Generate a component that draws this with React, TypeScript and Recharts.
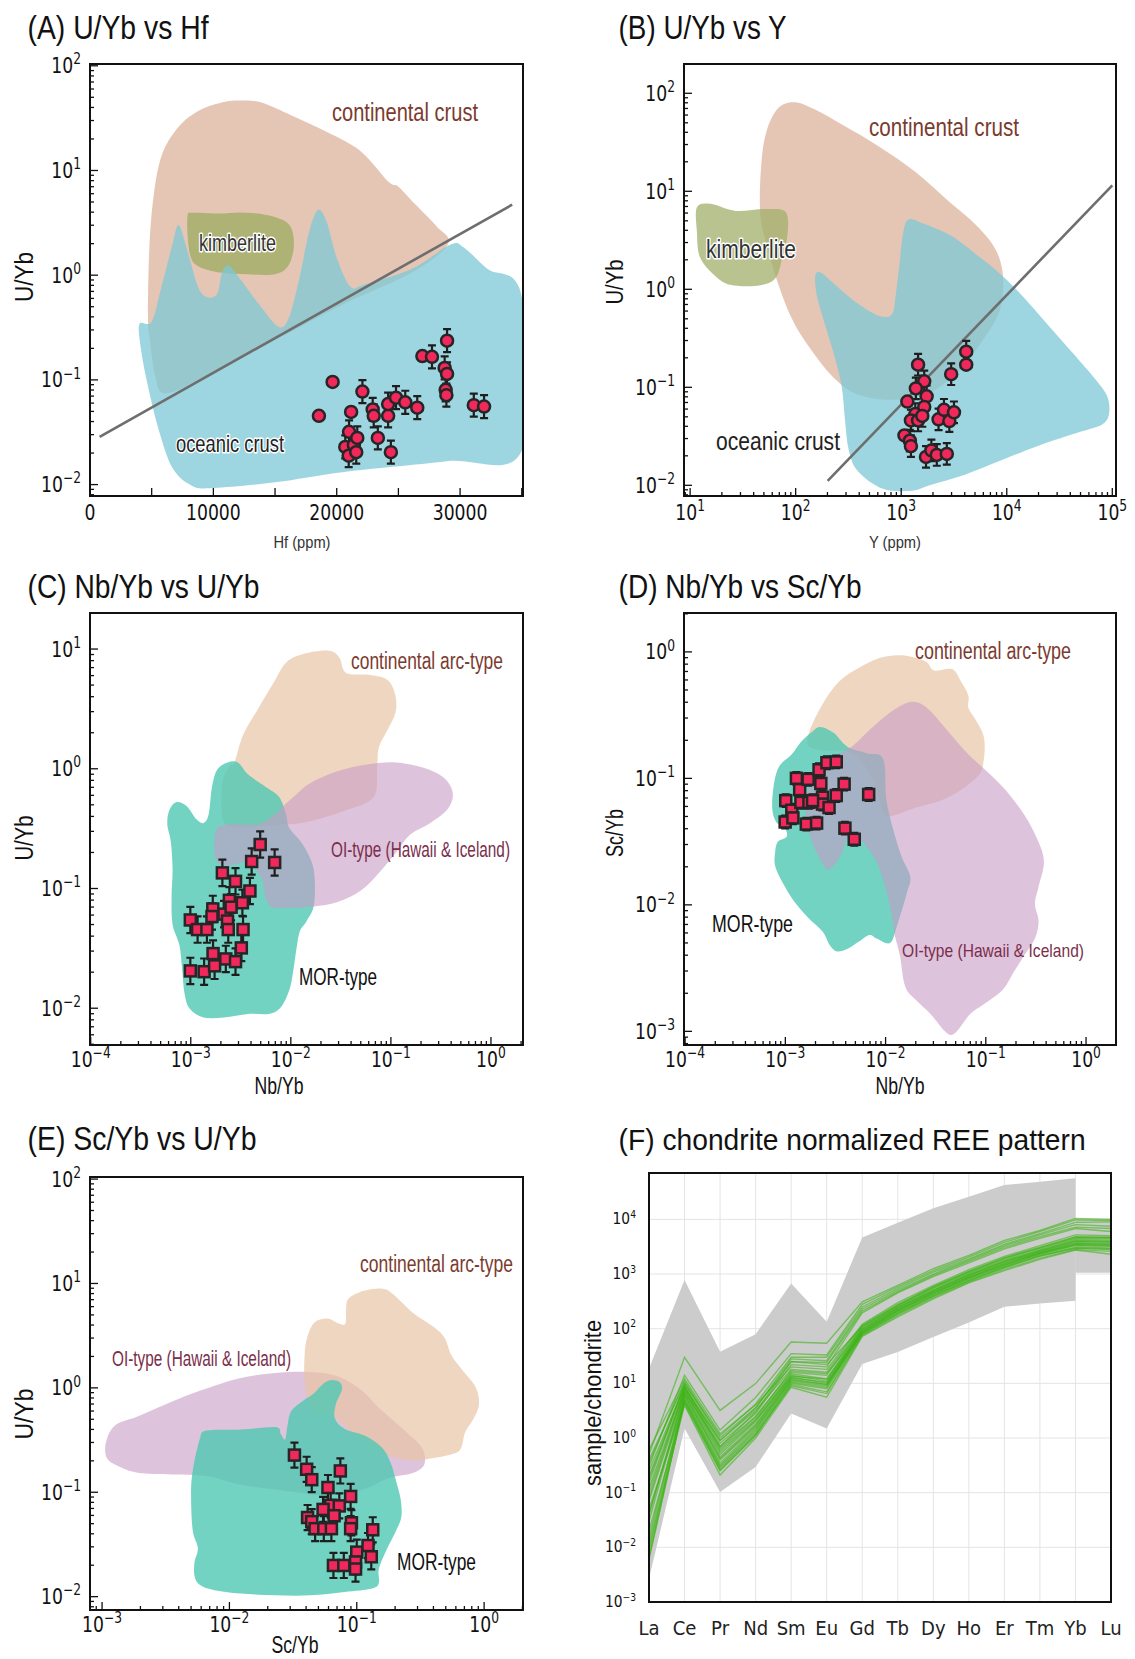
import React from 'react';
import { ScatterChart, Scatter, XAxis, YAxis, ComposedChart, Area, Line, CartesianGrid } from 'recharts';

type Pt = [number, number];
type Sample = [number, number, number]; // x, y, error half-width in decades

// ---------- (A) U/Yb vs Hf ----------
const hfSamples: Sample[] = [
  [18556, 0.0454, 0], [19667, 0.0955, 0], [21167, 0.0494, 0], [21000, 0.0319, 0.11],
  [20694, 0.0229, 0.11], [20972, 0.0189, 0.11], [21389, 0.0239, 0.11], [21667, 0.0279, 0.11],
  [21583, 0.0204, 0.11], [22083, 0.0773, 0.11], [22917, 0.0522, 0.11], [23000, 0.0454, 0.11],
  [23333, 0.0279, 0.11], [24167, 0.0454, 0.11], [24167, 0.0587, 0.11], [24806, 0.0676, 0.11],
  [24389, 0.0204, 0.11], [25556, 0.0611, 0.11], [26528, 0.0543, 0.11], [26944, 0.169, 0],
  [27722, 0.166, 0.11], [28750, 0.13, 0.11], [28944, 0.237, 0.11], [28944, 0.114, 0.11],
  [28833, 0.0803, 0.11], [28889, 0.0714, 0.11], [31111, 0.0574, 0.11], [31944, 0.0556, 0.11],
];
const hfContinental: Pt[] = [
  [4700, 0.385], [4800, 1.7], [5140, 5.5], [5830, 14.1], [7220, 26.4], [8890, 37.6], [10830, 45],
  [12220, 46.7], [13890, 44.6], [16390, 33.4], [19170, 23.4], [21940, 15.3], [24170, 7.85],
  [25000, 7.0], [26390, 4.72], [28060, 2.95], [29030, 1.99], [26110, 1.06], [20560, 0.53],
  [15000, 0.24], [9440, 0.11], [6110, 0.074], [5280, 0.11], [4860, 0.24],
];
const hfKimberlite: Pt[] = [
  [7920, 3.73], [8330, 3.94], [10560, 3.88], [12220, 3.97], [14440, 3.73], [16110, 3.06],
  [16530, 1.99], [16110, 1.25], [15000, 1.02], [12780, 1.02], [10560, 1.06], [8890, 1.2],
  [8190, 1.46], [7920, 2.33],
];
const hfOceanic: Pt[] = [
  [4000, 0.34], [5000, 0.36], [5800, 0.78], [6700, 2.0], [7200, 3.0], [7900, 1.7], [8750, 0.78],
  [9450, 0.62], [10300, 0.66], [10700, 1.06], [11250, 1.24], [12200, 0.91], [13900, 0.49],
  [15300, 0.32], [16100, 0.385], [16950, 0.91], [17800, 2.7], [18500, 4.2], [19200, 3.2],
  [20000, 1.46], [21100, 0.78], [22200, 0.81], [26100, 1.15], [29200, 1.95], [30300, 1.84],
  [32200, 1.15], [35000, 0.62], [35000, 0.021], [28900, 0.0167], [20600, 0.0132], [15000, 0.0105],
  [10000, 0.0093], [8300, 0.0097], [6700, 0.0143], [5550, 0.034], [4700, 0.087], [4150, 0.19],
];
const hfTrend: Pt[] = [[778, 0.0286], [34222, 4.71]];
const hfTicks = [0, 5000, 10000, 15000, 20000, 25000, 30000, 35000];

// ---------- (B) U/Yb vs Y ----------
const ySamples: Sample[] = [
  [1445, 0.17, 0.11], [1652, 0.115, 0.11], [1377, 0.0975, 0.11], [1741, 0.081, 0.11],
  [1143, 0.0716, 0], [1652, 0.063, 0.11], [1360, 0.0534, 0.11], [1236, 0.0459, 0.11],
  [1445, 0.0459, 0.11], [1585, 0.051, 0.11], [1074, 0.0323, 0], [1208, 0.0285, 0.11],
  [1236, 0.0251, 0.11], [1718, 0.0195, 0.11], [1932, 0.0227, 0.11], [2173, 0.0204, 0.11],
  [2704, 0.0209, 0.11], [2259, 0.0471, 0.11], [2541, 0.059, 0.11], [2858, 0.0452, 0.11],
  [3162, 0.0556, 0.11], [2974, 0.136, 0.11], [4130, 0.231, 0.11], [4130, 0.17, 0],
];
const yContinental: Pt[] = [
  [46, 6.31], [47.5, 20.4], [53.8, 43.3], [69.2, 71.6], [98.4, 81.1], [151, 68.6], [283, 47.1],
  [620, 28.5], [1358, 15.8], [2748, 8.11], [5140, 4.51], [7907, 2.51], [9250, 1.29], [8550, 0.605],
  [6010, 0.31], [3475, 0.146], [1857, 0.0882], [849, 0.0746], [387, 0.0846], [224, 0.1285],
  [140, 0.241], [94.6, 0.471], [69.2, 1.087], [52.6, 2.97],
];
const yOceanic: Pt[] = [
  [154, 1.4], [177, 1.46], [242, 1.09], [387, 0.716], [620, 0.534], [816, 0.556], [883, 0.846],
  [955, 1.65], [1033, 3.51], [1161, 5.12], [1589, 4.71], [2972, 3.51], [5560, 2.12], [8890, 1.4],
  [14220, 0.846], [24600, 0.433], [42600, 0.221], [68100, 0.123], [89500, 0.081], [93100, 0.0534],
  [79600, 0.0415], [49800, 0.0351], [19450, 0.0251], [8890, 0.018], [4065, 0.0129], [1858, 0.01],
  [1256, 0.0088], [671, 0.0092], [387, 0.014], [318, 0.0231], [294, 0.0451], [272, 0.104],
  [224, 0.241], [177, 0.556], [157, 0.92],
];
const yKimberlite: Pt[] = [
  [11.6, 6.86], [15.6, 7.46], [27, 6.31], [50.6, 6.58], [79.6, 6.21], [84.1, 3.82], [74.8, 2.12],
  [64, 1.29], [43.2, 1.09], [24, 1.11], [16.9, 1.4], [12.4, 2.12], [11.6, 3.82],
];
const yTrend: Pt[] = [[201, 0.0111], [100000, 11.5]];

// ---------- (C) Nb/Yb vs U/Yb ----------
const nbuSamples: Sample[] = [
  [0.00099, 0.0546, 0.11], [0.00117, 0.0454, 0.11], [0.00145, 0.0454, 0.11], [0.00166, 0.0675, 0.11],
  [0.00163, 0.0583, 0.11], [0.00207, 0.135, 0.11], [0.00215, 0.0611, 0.11], [0.00233, 0.0535, 0.11],
  [0.00237, 0.0454, 0.11], [0.00243, 0.0797, 0.11], [0.00253, 0.0698, 0.11], [0.0028, 0.1148, 0.11],
  [0.00328, 0.076, 0.11], [0.00333, 0.0454, 0.11], [0.0039, 0.0953, 0.11], [0.00406, 0.168, 0.11],
  [0.00494, 0.233, 0.11], [0.00689, 0.165, 0.11], [0.00099, 0.0205, 0.11], [0.00136, 0.0202, 0.11],
  [0.00173, 0.0226, 0.11], [0.00167, 0.0286, 0.11], [0.00224, 0.0258, 0.11], [0.0028, 0.0245, 0.11],
  [0.0032, 0.0319, 0.11],
];
const nbuArc: Pt[] = [
  [0.00273, 1.13], [0.00333, 1.91], [0.00457, 3.04], [0.00652, 5.0], [0.00895, 7.69], [0.0133, 9.08],
  [0.024, 9.69], [0.0305, 8.49], [0.0357, 6.31], [0.0598, 6.1], [0.0924, 5.52], [0.111, 4.1],
  [0.111, 2.94], [0.0924, 2.11], [0.0759, 1.52], [0.0729, 1.05], [0.0673, 0.581], [0.0344, 0.446],
  [0.0156, 0.365], [0.00895, 0.342], [0.0032, 0.331], [0.00212, 0.365], [0.00207, 0.757], [0.00243, 1.05],
];
const nbuMor: Pt[] = [
  [0.000608, 0.446], [0.000711, 0.526], [0.000902, 0.492], [0.00114, 0.378], [0.00134, 0.353],
  [0.00151, 0.417], [0.00163, 0.709], [0.00184, 0.987], [0.00233, 1.13], [0.00296, 1.13],
  [0.00375, 0.894], [0.00557, 0.709], [0.00764, 0.581], [0.00895, 0.417], [0.00968, 0.32],
  [0.0133, 0.23], [0.0169, 0.145], [0.0171, 0.0746], [0.0144, 0.0535], [0.0123, 0.0439],
  [0.0114, 0.0315], [0.0105, 0.0198], [0.00968, 0.0143], [0.00794, 0.0102], [0.00602, 0.00896],
  [0.00375, 0.00896], [0.00215, 0.00838], [0.00134, 0.00838], [0.000977, 0.0099], [0.000867, 0.0133],
  [0.00082, 0.0212], [0.00077, 0.0337], [0.000658, 0.0501], [0.000643, 0.0851], [0.000658, 0.145],
  [0.000632, 0.246], [0.000583, 0.342],
];
const nbuOi: Pt[] = [
  [0.00177, 0.3], [0.00233, 0.342], [0.00514, 0.353], [0.00968, 0.544], [0.0156, 0.757], [0.0293, 0.955],
  [0.0598, 1.09], [0.113, 1.13], [0.212, 1.02], [0.341, 0.836], [0.416, 0.621], [0.369, 0.461],
  [0.248, 0.353], [0.155, 0.281], [0.113, 0.201], [0.0789, 0.14], [0.051, 0.0972], [0.0293, 0.0771],
  [0.0169, 0.0708], [0.0105, 0.0689], [0.00652, 0.0698], [0.00557, 0.0851], [0.00514, 0.119],
  [0.00375, 0.165], [0.00233, 0.155], [0.00177, 0.176],
];

// ---------- (D) Nb/Yb vs Sc/Yb ----------
const nbscSamples: Sample[] = [
  [0.00101, 0.0667, 0.05], [0.000996, 0.0452, 0.05], [0.00116, 0.056, 0.05], [0.00119, 0.0487, 0.05],
  [0.00129, 0.1, 0.05], [0.00139, 0.0815, 0.05], [0.00143, 0.0646, 0.05], [0.00162, 0.0435, 0.05],
  [0.00169, 0.0983, 0.05], [0.00172, 0.0646, 0.05], [0.00205, 0.0443, 0.05], [0.00217, 0.117, 0.05],
  [0.00226, 0.0912, 0.05], [0.00235, 0.071, 0.05], [0.00235, 0.0626, 0.05], [0.0026, 0.133, 0.05],
  [0.00273, 0.0588, 0.05], [0.00322, 0.135, 0.05], [0.00322, 0.0732, 0.05], [0.00386, 0.0901, 0.05],
  [0.00393, 0.0404, 0.05], [0.00487, 0.033, 0.05], [0.00678, 0.0746, 0.05], [0.00187, 0.0667, 0.05],
];
const nbscArc: Pt[] = [
  [0.00176, 0.241], [0.00235, 0.386], [0.00341, 0.58], [0.00538, 0.745], [0.00883, 0.899],
  [0.0145, 0.939], [0.0248, 0.844], [0.0305, 0.713], [0.0461, 0.731], [0.0568, 0.58], [0.067, 0.451],
  [0.067, 0.362], [0.0791, 0.291], [0.0955, 0.213], [0.0955, 0.141], [0.0824, 0.103], [0.0425, 0.071],
  [0.0202, 0.0588], [0.0104, 0.0503], [0.00883, 0.0667], [0.0069, 0.11], [0.00456, 0.16],
  [0.00235, 0.166], [0.00169, 0.182],
];
const nbscMor: Pt[] = [
  [0.00116, 0.155], [0.00143, 0.194], [0.00184, 0.233], [0.00223, 0.255], [0.00303, 0.229],
  [0.00412, 0.179], [0.0065, 0.158], [0.0095, 0.141], [0.0103, 0.064], [0.014, 0.0258],
  [0.0176, 0.0168], [0.0163, 0.0124], [0.013, 0.0068], [0.0111, 0.005], [0.00813, 0.00543],
  [0.0069, 0.00578], [0.00538, 0.0051], [0.00419, 0.0045], [0.00327, 0.00428], [0.00278, 0.00479],
  [0.00235, 0.00615], [0.00169, 0.00791], [0.00121, 0.0108], [0.000948, 0.0148], [0.000791, 0.0203],
  [0.000791, 0.026], [0.000838, 0.0314], [0.00103, 0.0345], [0.000989, 0.0404], [0.000804, 0.0457],
  [0.000739, 0.0588], [0.000771, 0.0912], [0.000873, 0.125],
];
const nbscOi: Pt[] = [
  [0.00443, 0.174], [0.0069, 0.241], [0.0104, 0.319], [0.0157, 0.391], [0.021, 0.398], [0.0281, 0.34],
  [0.0425, 0.233], [0.0643, 0.16], [0.0895, 0.125], [0.147, 0.0857], [0.241, 0.0519], [0.336, 0.0314],
  [0.38, 0.0216], [0.336, 0.0139], [0.309, 0.0102], [0.336, 0.00743], [0.309, 0.00543], [0.241, 0.00397],
  [0.188, 0.0029], [0.147, 0.00212], [0.097, 0.00165], [0.0698, 0.00137], [0.0545, 0.00106],
  [0.0461, 0.00094], [0.0391, 0.001], [0.0281, 0.00137], [0.0202, 0.00176], [0.0157, 0.00226],
  [0.0139, 0.00397], [0.0123, 0.0058], [0.012, 0.0068], [0.0103, 0.0124], [0.00819, 0.0215],
  [0.00603, 0.0309], [0.00443, 0.036], [0.00353, 0.0242], [0.0027, 0.019], [0.00223, 0.0228],
  [0.00177, 0.0348], [0.00158, 0.0601], [0.00185, 0.098], [0.0026, 0.141],
];

// ---------- (E) Sc/Yb vs U/Yb ----------
const scuSamples: Sample[] = [
  [0.0324, 0.227, 0.12], [0.0404, 0.166, 0.12], [0.0443, 0.132, 0.12], [0.0743, 0.16, 0.12],
  [0.0594, 0.111, 0.12], [0.0895, 0.0912, 0.12], [0.0624, 0.0751, 0.12], [0.0729, 0.074, 0.12],
  [0.0544, 0.0685, 0.12], [0.0664, 0.0596, 0.12], [0.0411, 0.0573, 0.12], [0.0443, 0.0523, 0.12],
  [0.0471, 0.0448, 0.12], [0.0551, 0.0448, 0.12], [0.0632, 0.0448, 0.12], [0.0908, 0.051, 0.12],
  [0.0895, 0.0448, 0.12], [0.1335, 0.0437, 0.12], [0.1, 0.0267, 0.12], [0.1226, 0.0309, 0.12],
  [0.13, 0.0241, 0.12], [0.0978, 0.0215, 0.12], [0.0978, 0.0184, 0.12], [0.0656, 0.0199, 0.12],
  [0.0791, 0.0199, 0.12],
];
const scuOi: Pt[] = [
  [0.00108, 0.309], [0.00127, 0.438], [0.0019, 0.531], [0.00294, 0.669], [0.00428, 0.812],
  [0.00661, 0.985], [0.0123, 1.24], [0.023, 1.39], [0.043, 1.42], [0.0707, 1.29], [0.109, 0.947],
  [0.149, 0.644], [0.246, 0.375], [0.326, 0.265], [0.34, 0.187], [0.279, 0.154], [0.18, 0.137],
  [0.109, 0.105], [0.0586, 0.0933], [0.0314, 0.101], [0.0123, 0.118], [0.00661, 0.143],
  [0.00355, 0.148], [0.0019, 0.154], [0.00131, 0.18], [0.00108, 0.218],
];
const scuArc: Pt[] = [
  [0.0391, 2.22], [0.0416, 3.26], [0.047, 4.27], [0.0586, 4.62], [0.0731, 4.11], [0.0817, 4.18],
  [0.0826, 6.05], [0.088, 7.34], [0.116, 8.57], [0.159, 8.91], [0.192, 7.93], [0.279, 5.19],
  [0.405, 3.81], [0.489, 3.02], [0.554, 2.05], [0.667, 1.51], [0.857, 1.02], [0.912, 0.695],
  [0.83, 0.511], [0.71, 0.375], [0.667, 0.275], [0.589, 0.236], [0.381, 0.21], [0.279, 0.202],
  [0.192, 0.218], [0.132, 0.275], [0.0908, 0.375], [0.0624, 0.552], [0.0443, 0.596], [0.0391, 1.11],
];
const scuMor: Pt[] = [
  [0.0551, 1.11], [0.0644, 1.19], [0.0743, 1.12], [0.0762, 0.947], [0.0685, 0.695], [0.0673, 0.511],
  [0.0801, 0.405], [0.116, 0.347], [0.159, 0.265], [0.186, 0.187], [0.204, 0.127], [0.221, 0.0863],
  [0.224, 0.0587], [0.204, 0.0431], [0.169, 0.0271], [0.149, 0.0184], [0.149, 0.0135], [0.132, 0.012],
  [0.0801, 0.0111], [0.043, 0.0103], [0.023, 0.0103], [0.0123, 0.0107], [0.00749, 0.0116],
  [0.00584, 0.013], [0.00532, 0.0158], [0.00532, 0.0215], [0.00566, 0.0292], [0.00515, 0.0431],
  [0.005, 0.0933], [0.00515, 0.16], [0.00584, 0.321], [0.00661, 0.39], [0.0123, 0.399], [0.023, 0.421],
  [0.0253, 0.361], [0.0274, 0.321], [0.0286, 0.438], [0.0305, 0.596], [0.0379, 0.751], [0.0457, 0.877],
];

// ---------- (F) chondrite normalized REE pattern ----------
const ree = ['La', 'Ce', 'Pr', 'Nd', 'Sm', 'Eu', 'Gd', 'Tb', 'Dy', 'Ho', 'Er', 'Tm', 'Yb', 'Lu'];
const reeBandLow = [0.00266, 1.49, 0.103, 0.295, 2.8, 1.49, 22.5, 37.6, 70.8, 130, 251, 290, 323, null];
const reeBandHigh = [18.7, 774, 37.7, 79.4, 673, 134, 4680, 8670, 15900, 25900, 42500, 48800, 56300, null];
const reeTailLow = [null, null, null, null, null, null, null, null, null, null, null, null, 1050, 1050];
const reeTailHigh = [null, null, null, null, null, null, null, null, null, null, null, null, 10300, 10300];
const reeSamples: number[][] = [
  [0.5, 30, 3.2, 9.9, 57, 54, 310, 620, 1250, 2200, 4100, 6300, 10400, 10000],
  [0.3, 14, 1.4, 5.5, 35, 33, 280, 580, 1150, 2050, 3800, 6000, 9800, 9500],
  [0.15, 10, 1.1, 4.2, 30, 30, 250, 540, 1080, 1900, 3500, 5500, 8800, 9000],
  [0.08, 8, 0.9, 3.5, 28, 26, 230, 500, 1000, 1800, 3300, 5200, 8000, 7500],
  [0.04, 7, 0.7, 3.0, 25, 24, 210, 470, 950, 1700, 3100, 4800, 7200, 6800],
  [0.2, 9, 0.8, 2.8, 22, 20, 195, 450, 900, 1600, 2900, 4500, 6800, 6000],
  [0.6, 12, 1.2, 4.0, 20, 18, 120, 300, 620, 1200, 2100, 3300, 5200, 5000],
  [0.4, 10, 0.9, 3.2, 18, 16, 115, 280, 590, 1130, 2000, 3100, 4800, 4700],
  [0.25, 9, 0.7, 2.5, 16, 14, 110, 265, 560, 1070, 1900, 2950, 4500, 4500],
  [0.12, 8, 0.6, 2.2, 15, 12, 105, 255, 540, 1030, 1800, 2800, 4300, 4200],
  [0.07, 7, 0.5, 2.0, 14, 11, 100, 245, 510, 980, 1720, 2700, 4100, 4000],
  [0.03, 6.5, 0.45, 1.8, 13, 10, 96, 235, 490, 940, 1650, 2600, 3900, 3800],
  [0.015, 6, 0.4, 1.6, 12, 9.5, 92, 225, 470, 900, 1580, 2500, 3700, 3600],
  [0.008, 5.5, 0.35, 1.5, 11, 9, 88, 215, 450, 860, 1500, 2400, 3500, 3400],
  [0.006, 5, 0.3, 1.3, 10.5, 8.5, 85, 205, 430, 820, 1430, 2300, 3300, 3200],
  [0.05, 4.5, 0.28, 1.2, 10, 8, 82, 195, 410, 780, 1360, 2200, 3100, 3000],
  [0.02, 4.2, 0.25, 1.1, 9.5, 7, 78, 185, 390, 740, 1300, 2100, 2950, 2800],
  [0.01, 4, 0.21, 1.0, 8.5, 5.6, 72, 165, 350, 690, 1150, 1850, 2750, 2300],
  [0.35, 11, 1.0, 3.6, 25, 22, 110, 270, 580, 1100, 1950, 3000, 4700, 4600],
  [0.18, 8.5, 0.65, 2.4, 17, 15, 98, 240, 500, 960, 1700, 2650, 4000, 3900],
  [0.1, 7.5, 0.55, 2.1, 13.5, 12, 90, 220, 460, 880, 1550, 2450, 3600, 3500],
  [0.04, 6.2, 0.42, 1.7, 12.5, 10.5, 86, 210, 440, 840, 1460, 2350, 3400, 3300],
  [0.012, 5.2, 0.32, 1.4, 11.5, 9.5, 80, 190, 400, 760, 1330, 2150, 3000, 2900],
  [0.0065, 4.8, 0.26, 1.15, 9, 6.5, 75, 175, 370, 710, 1220, 1950, 2800, 2600],
];

// ---------- helpers ----------
const TICK_FONT = '"DejaVu Sans", Verdana, sans-serif';
const LABEL_FONT = '"Liberation Sans", Arial, Helvetica, sans-serif';
const SX = 0.82;
const MINOR = [1, 2, 3, 4, 5, 6, 7, 8, 9];
const PAD = 30; // room around each plot box for tick labels

const peach = 'rgba(222,184,163,0.8)';
const cyan = 'rgba(124,200,214,0.75)';
const arcPeach = 'rgba(232,196,165,0.7)';
const morTeal = 'rgba(79,200,179,0.8)';
const oiLilac = 'rgba(200,155,197,0.6)';

function logTicks([lo, hi]: [number, number]) {
  const out: number[] = [];
  for (let p = Math.floor(Math.log10(lo)); p <= Math.ceil(Math.log10(hi)); p++) {
    for (const m of MINOR) {
      const v = m * Math.pow(10, p);
      if (v >= lo * 0.9999 && v <= hi * 1.0001) out.push(v);
    }
  }
  return out;
}

function isDecade(v: number) {
  const l = Math.log10(v);
  return Math.abs(l - Math.round(l)) < 1e-6;
}

function expText(v: number) {
  const p = Math.round(Math.log10(v));
  return p < 0 ? `\u2212${-p}` : `${p}`;
}

function PowText({ v, size, sup, anchor }: { v: number; size: number; sup: number; anchor: string }) {
  return (
    <text textAnchor={anchor as any} fontFamily={TICK_FONT} fontSize={size} fill="#111">
      <tspan>10</tspan>
      <tspan dy={-size * 0.42} fontSize={sup}>
        {expText(v)}
      </tspan>
    </text>
  );
}

const logYTick = (props: any) => {
  const { x, y, payload } = props;
  const v = payload.value as number;
  const major = isDecade(v);
  return (
    <g>
      <line x1={x} x2={x + (major ? 8 : 4)} y1={y} y2={y} stroke="#111" strokeWidth={1.3} />
      {major && (
        <g transform={`translate(${x - 9},${y + 7.5}) scale(${SX},1)`}>
          <PowText v={v} size={21} sup={15} anchor="end" />
        </g>
      )}
    </g>
  );
};

const makeLogXTick = (dy: number) => (props: any) => {
  const { x, y, payload } = props;
  const v = payload.value as number;
  const major = isDecade(v);
  return (
    <g>
      <line x1={x} x2={x} y1={y} y2={y - (major ? 8 : 4)} stroke="#111" strokeWidth={1.3} />
      {major && (
        <g transform={`translate(${x},${y + dy}) scale(${SX},1)`}>
          <PowText v={v} size={21} sup={15} anchor="middle" />
        </g>
      )}
    </g>
  );
};

const linXTick = (props: any) => {
  const { x, y, payload } = props;
  const v = payload.value as number;
  return (
    <g>
      <line x1={x} x2={x} y1={y} y2={y - 8} stroke="#111" strokeWidth={1.3} />
      {v % 10000 === 0 && (
        <g transform={`translate(${x},${y + 24}) scale(${SX},1)`}>
          <text textAnchor="middle" fontFamily={TICK_FONT} fontSize={21} fill="#111">
            {v}
          </text>
        </g>
      )}
    </g>
  );
};

function closedPath(pts: { x: number; y: number }[]) {
  const n = pts.length;
  let d = `M${pts[0].x},${pts[0].y}`;
  for (let i = 0; i < n; i++) {
    const p0 = pts[(i - 1 + n) % n];
    const p1 = pts[i];
    const p2 = pts[(i + 1) % n];
    const p3 = pts[(i + 2) % n];
    d += `C${p1.x + (p2.x - p0.x) / 6},${p1.y + (p2.y - p0.y) / 6} ${p2.x - (p3.x - p1.x) / 6},${
      p2.y - (p3.y - p1.y) / 6
    } ${p2.x},${p2.y}`;
  }
  return d + 'Z';
}

// vertical error bar with caps, drawn between the two scaled end points
const errorBarLine = (lp: any) => {
  const [a, b] = lp.points;
  return (
    <path
      d={`M${a.x},${a.y}L${b.x},${b.y}M${a.x - 4},${a.y}L${a.x + 4},${a.y}M${b.x - 4},${b.y}L${b.x + 4},${b.y}`}
      stroke="#1e1e1e"
      strokeWidth={2.2}
      fill="none"
    />
  );
};

const noShape = () => <g />;
const circleShape = (p: any) => (
  <circle cx={p.cx} cy={p.cy} r={6} fill="#f0285c" stroke="#262626" strokeWidth={2.5} />
);
const squareShape = (p: any) => (
  <rect x={p.cx - 5.5} y={p.cy - 5.5} width={11} height={11} fill="#f0285c" stroke="#262626" strokeWidth={2.5} />
);

type Region = { pts: Pt[]; fill: string };
type Box = { left: number; top: number; width: number; height: number };

function Frame({ box }: { box: Box }) {
  return (
    <div
      style={{
        position: 'absolute',
        left: box.left - 1,
        top: box.top - 1,
        width: box.width + 2,
        height: box.height + 2,
        border: '2px solid #111',
        boxSizing: 'border-box',
        pointerEvents: 'none',
      }}
    />
  );
}

function ScatterPanel({
  box,
  xDomain,
  yDomain,
  xTicks,
  labelDy = 23,
  regions,
  samples,
  marker,
  trend,
}: {
  box: Box;
  xDomain: [number, number];
  yDomain: [number, number];
  xTicks?: number[];
  labelDy?: number;
  regions: Region[];
  samples: Sample[];
  marker: 'circle' | 'square';
  trend?: Pt[];
}) {
  const pts = samples.map(([x, y, e]) => ({ x, y, e }));
  const linear = !!xTicks;
  return (
    <>
      <div style={{ position: 'absolute', left: box.left - 60 - PAD, top: box.top - PAD }}>
        <ScatterChart
          width={box.width + 60 + PAD * 2}
          height={box.height + 30 + PAD * 2}
          margin={{ top: PAD, right: PAD, bottom: PAD, left: PAD }}
        >
          <XAxis
            type="number"
            dataKey="x"
            scale={linear ? 'linear' : 'log'}
            domain={xDomain}
            allowDataOverflow
            ticks={linear ? xTicks : logTicks(xDomain)}
            interval={0}
            height={30}
            tickSize={0}
            tickMargin={0}
            tickLine={false}
            axisLine={false}
            tick={linear ? linXTick : makeLogXTick(labelDy)}
          />
          <YAxis
            type="number"
            dataKey="y"
            scale="log"
            domain={yDomain}
            allowDataOverflow
            ticks={logTicks(yDomain)}
            interval={0}
            width={60}
            tickSize={0}
            tickMargin={0}
            tickLine={false}
            axisLine={false}
            tick={logYTick}
          />
          {regions.map((r, i) => (
            <Scatter
              key={`r${i}`}
              data={r.pts.map(([x, y]) => ({ x, y }))}
              shape={noShape}
              isAnimationActive={false}
              legendType="none"
              line={(lp: any) => <path d={closedPath(lp.points)} fill={r.fill} stroke="none" />}
            />
          ))}
          {trend && (
            <Scatter
              data={trend.map(([x, y]) => ({ x, y }))}
              shape={noShape}
              isAnimationActive={false}
              legendType="none"
              line={(lp: any) => (
                <path
                  d={`M${lp.points[0].x},${lp.points[0].y}L${lp.points[1].x},${lp.points[1].y}`}
                  stroke="#6e6e6e"
                  strokeWidth={2.6}
                  fill="none"
                />
              )}
            />
          )}
          {pts
            .filter((p) => p.e > 0)
            .map((p, i) => (
              <Scatter
                key={`e${i}`}
                data={[
                  { x: p.x, y: p.y / Math.pow(10, p.e) },
                  { x: p.x, y: p.y * Math.pow(10, p.e) },
                ]}
                shape={noShape}
                isAnimationActive={false}
                legendType="none"
                line={errorBarLine}
              />
            ))}
          <Scatter
            data={pts}
            shape={marker === 'circle' ? circleShape : squareShape}
            isAnimationActive={false}
            legendType="none"
          />
        </ScatterChart>
      </div>
      <Frame box={box} />
    </>
  );
}

function ReePanel({ box }: { box: Box }) {
  const rows = ree.map((el, i) => {
    const row: Record<string, any> = { el };
    row.band = reeBandLow[i] != null ? [reeBandLow[i], reeBandHigh[i]] : null;
    row.tail = reeTailLow[i] != null ? [reeTailLow[i], reeTailHigh[i]] : null;
    reeSamples.forEach((s, j) => {
      row[`s${j}`] = s[i];
    });
    return row;
  });
  const yDomain: [number, number] = [0.001, 70500];
  const decades = [0.001, 0.01, 0.1, 1, 10, 100, 1000, 10000];
  return (
    <>
      <div style={{ position: 'absolute', left: box.left - 70, top: box.top - 10 }}>
        <ComposedChart
          width={box.width + 80}
          height={box.height + 50}
          data={rows}
          margin={{ top: 10, right: 10, bottom: 0, left: 10 }}
        >
          <CartesianGrid stroke="#e4e4e4" strokeWidth={1} />
          <XAxis
            dataKey="el"
            type="category"
            scale="point"
            interval={0}
            height={40}
            tickSize={0}
            tickMargin={0}
            tickLine={false}
            axisLine={false}
            tick={(p: any) => (
              <g transform={`translate(${p.x},${p.y + 33}) scale(0.95,1)`}>
                <text textAnchor="middle" fontFamily={TICK_FONT} fontSize={19} fill="#222">
                  {p.payload.value}
                </text>
              </g>
            )}
          />
          <YAxis
            type="number"
            scale="log"
            domain={yDomain}
            allowDataOverflow
            ticks={decades}
            interval={0}
            width={60}
            tickSize={0}
            tickMargin={0}
            tickLine={false}
            axisLine={false}
            tick={(p: any) => (
              <g transform={`translate(${p.x - 13},${p.y + 5}) scale(0.92,1)`}>
                <PowText v={p.payload.value} size={15} sup={10} anchor="end" />
              </g>
            )}
          />
          <Area dataKey="band" type="linear" fill="#cccccc" fillOpacity={1} stroke="none" isAnimationActive={false} />
          <Area dataKey="tail" type="linear" fill="#cccccc" fillOpacity={1} stroke="none" isAnimationActive={false} />
          {reeSamples.map((_, j) => (
            <Line
              key={`s${j}`}
              dataKey={`s${j}`}
              type="linear"
              stroke="#3cb414"
              strokeOpacity={0.6}
              strokeWidth={1.4}
              dot={false}
              isAnimationActive={false}
            />
          ))}
        </ComposedChart>
      </div>
      <Frame box={box} />
    </>
  );
}

function T({
  x,
  y,
  w,
  s,
  fill = '#111',
  halo = false,
  anchor = 'start',
  rot = false,
  children,
}: {
  x: number;
  y: number;
  w: number;
  s: number;
  fill?: string;
  halo?: boolean;
  anchor?: string;
  rot?: boolean;
  children: React.ReactNode;
}) {
  return (
    <text
      x={x}
      y={y}
      fontSize={s}
      fill={fill}
      fontFamily={LABEL_FONT}
      textAnchor={anchor as any}
      textLength={w}
      lengthAdjust="spacingAndGlyphs"
      transform={rot ? `rotate(-90 ${x} ${y})` : undefined}
      stroke={halo ? '#ffffff' : undefined}
      strokeWidth={halo ? 3 : undefined}
      strokeLinejoin="round"
      style={{ paintOrder: 'stroke' }}
    >
      {children}
    </text>
  );
}

const brown = '#7b3b2e';
const plum = '#7a2e4c';

export default function App() {
  return (
    <div
      style={{
        position: 'absolute',
        left: 0,
        top: 0,
        width: 1135,
        height: 1659,
        background: '#ffffff',
        overflow: 'hidden',
      }}
    >
      <ScatterPanel
        box={{ left: 90, top: 64, width: 433, height: 432 }}
        xDomain={[0, 35100]}
        yDomain={[0.00778, 104]}
        xTicks={hfTicks}
        regions={[
          { pts: hfContinental, fill: peach },
          { pts: hfKimberlite, fill: 'rgba(160,172,100,0.8)' },
          { pts: hfOceanic, fill: cyan },
        ]}
        samples={hfSamples}
        marker="circle"
        trend={hfTrend}
      />
      <ScatterPanel
        box={{ left: 684, top: 64, width: 432, height: 432 }}
        xDomain={[8.75, 108400]}
        yDomain={[0.00778, 199]}
        labelDy={24}
        regions={[
          { pts: yContinental, fill: peach },
          { pts: yKimberlite, fill: 'rgba(160,175,105,0.75)' },
          { pts: yOceanic, fill: cyan },
        ]}
        samples={ySamples}
        marker="circle"
        trend={yTrend}
      />
      <ScatterPanel
        box={{ left: 90, top: 613, width: 433, height: 432 }}
        xDomain={[9.84e-5, 2.09]}
        yDomain={[0.00493, 20.0]}
        labelDy={22}
        regions={[
          { pts: nbuArc, fill: arcPeach },
          { pts: nbuMor, fill: morTeal },
          { pts: nbuOi, fill: oiLilac },
        ]}
        samples={nbuSamples}
        marker="square"
      />
      <ScatterPanel
        box={{ left: 684, top: 613, width: 432, height: 432 }}
        xDomain={[9.75e-5, 1.99]}
        yDomain={[0.00078, 2.03]}
        labelDy={22}
        regions={[
          { pts: nbscArc, fill: arcPeach },
          { pts: nbscMor, fill: morTeal },
          { pts: nbscOi, fill: oiLilac },
        ]}
        samples={nbscSamples}
        marker="square"
      />
      <ScatterPanel
        box={{ left: 90, top: 1177, width: 433, height: 433 }}
        xDomain={[8.04e-4, 2.02]}
        yDomain={[0.00745, 104.7]}
        labelDy={22}
        regions={[
          { pts: scuOi, fill: oiLilac },
          { pts: scuArc, fill: arcPeach },
          { pts: scuMor, fill: morTeal },
        ]}
        samples={scuSamples}
        marker="square"
      />
      <ReePanel box={{ left: 649, top: 1173, width: 462, height: 429 }} />

      <svg
        width={1135}
        height={1659}
        style={{ position: 'absolute', left: 0, top: 0, pointerEvents: 'none' }}
      >
        {/* panel titles */}
        <T x={27.5} y={39} w={181} s={33}>(A) U/Yb vs Hf</T>
        <T x={618.6} y={39} w={168} s={33}>(B) U/Yb vs Y</T>
        <T x={27.5} y={598} w={232} s={33}>(C) Nb/Yb vs U/Yb</T>
        <T x={618.6} y={598} w={243} s={33}>(D) Nb/Yb vs Sc/Yb</T>
        <T x={27.5} y={1150} w={229} s={33}>(E) Sc/Yb vs U/Yb</T>
        <T x={618.6} y={1150} w={467} s={30}>(F) chondrite normalized REE pattern</T>

        {/* axis labels */}
        <T x={33} y={277} w={50} s={25} anchor="middle" rot>U/Yb</T>
        <T x={302} y={548} w={57} s={17} anchor="middle" fill="#333">Hf (ppm)</T>
        <T x={623} y={282} w={45} s={23} anchor="middle" rot>U/Yb</T>
        <T x={895} y={548} w={52} s={17} anchor="middle" fill="#333">Y (ppm)</T>
        <T x={33} y={838} w={45} s={25} anchor="middle" rot>U/Yb</T>
        <T x={279} y={1094} w={49} s={24} anchor="middle">Nb/Yb</T>
        <T x={623} y={833} w={48} s={23} anchor="middle" rot>Sc/Yb</T>
        <T x={900} y={1094} w={49} s={24} anchor="middle">Nb/Yb</T>
        <T x={33} y={1414} w={51} s={25} anchor="middle" rot>U/Yb</T>
        <T x={295} y={1653} w={47} s={24} anchor="middle">Sc/Yb</T>
        <T x={601} y={1403} w={166} s={24} anchor="middle" rot>sample/chondrite</T>

        {/* field labels */}
        <T x={332} y={121} w={146} s={25} fill={brown}>continental crust</T>
        <T x={199} y={251} w={77} s={24} fill="#333" halo>kimberlite</T>
        <T x={176} y={452} w={108} s={24} fill="#222" halo>oceanic crust</T>
        <T x={869} y={136} w={150} s={25} fill={brown}>continental crust</T>
        <T x={706} y={258} w={90} s={26} fill="#333" halo>kimberlite</T>
        <T x={716} y={450} w={124} s={26} fill="#222" halo>oceanic crust</T>
        <T x={351} y={669} w={152} s={23} fill={brown}>continental arc-type</T>
        <T x={331} y={857} w={179} s={22} fill={plum}>OI-type (Hawaii &amp; Iceland)</T>
        <T x={299} y={985} w={78} s={23} fill="#111">MOR-type</T>
        <T x={915} y={659} w={156} s={23} fill={brown}>continental arc-type</T>
        <T x={712} y={932} w={81} s={23} fill="#111">MOR-type</T>
        <T x={902} y={957} w={182} s={19} fill={plum}>OI-type (Hawaii &amp; Iceland)</T>
        <T x={360} y={1272} w={153} s={23} fill={brown}>continental arc-type</T>
        <T x={112} y={1366} w={179} s={22} fill={plum}>OI-type (Hawaii &amp; Iceland)</T>
        <T x={397} y={1570} w={79} s={23} fill="#111">MOR-type</T>
      </svg>
    </div>
  );
}
